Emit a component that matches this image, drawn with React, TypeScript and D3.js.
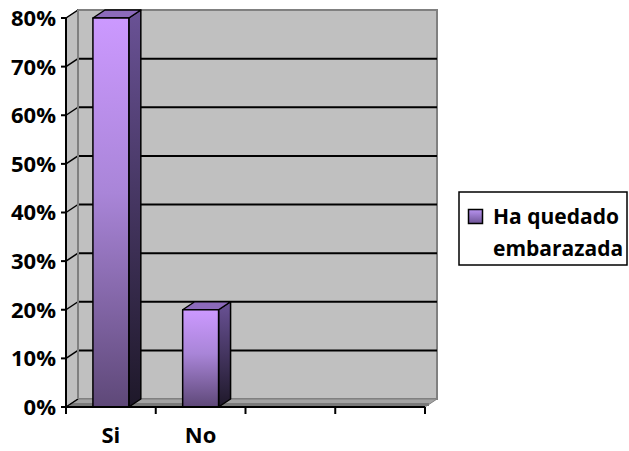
import React from "react";
import * as d3 from "d3";

const categories = ["Si", "No", "", " "];
const values = [0.8, 0.2];
const seriesName = ["Ha quedado", "embarazada"];
const yTicks = [0, 0.1, 0.2, 0.3, 0.4, 0.5, 0.6, 0.7, 0.8];

const W = 629;
const H = 451;
const left = 66;
const right = 425;
const top = 18;
const bottom = 407;
const dx = 12;
const dy = -8;
const FONT = "'Open Sans', Lato, sans-serif";
const FS = 22;
const LFS = 21;

export default function App() {
  const y = d3.scaleLinear().domain([0, 0.8]).range([bottom, top]);
  const x = d3
    .scaleBand<string>()
    .domain(categories)
    .range([left, right])
    .paddingInner(0.6)
    .paddingOuter(0.3);
  const step = x.step();
  const bw = x.bandwidth();
  const fmt = d3.format(".0%");
  const xTickPos = d3.range(categories.length + 1).map((i) => left + i * step);

  return (
    <svg
      width={W}
      height={H}
      style={{ position: "absolute", left: 0, top: 0, background: "#fff" }}
    >
      <defs>
        <linearGradient id="front" x1="0" y1="0" x2="0" y2="1">
          <stop offset="0" stopColor="#CC99FF" />
          <stop offset="0.45" stopColor="#A985D8" />
          <stop offset="1" stopColor="#5E4878" />
        </linearGradient>
        <linearGradient id="side" x1="0" y1="0" x2="0" y2="1">
          <stop offset="0" stopColor="#6A5296" />
          <stop offset="1" stopColor="#1E1829" />
        </linearGradient>
        <linearGradient id="leg" x1="0" y1="0" x2="0" y2="1">
          <stop offset="0" stopColor="#B893F0" />
          <stop offset="1" stopColor="#6E5496" />
        </linearGradient>
      </defs>

      {/* side wall */}
      <polygon
        points={`${left},${bottom} ${left + dx},${bottom + dy} ${left + dx},${top + dy} ${left},${top}`}
        fill="#C0C0C0"
        stroke="#808080"
        strokeWidth={1}
      />
      {/* back wall */}
      <rect
        x={left + dx}
        y={top + dy}
        width={right - left}
        height={bottom - top}
        fill="#C0C0C0"
        stroke="#808080"
        strokeWidth={2}
      />
      {/* floor */}
      <polygon
        points={`${left},${bottom} ${right},${bottom} ${right + dx},${bottom + dy} ${left + dx},${bottom + dy}`}
        fill="#A3A3A3"
        stroke="#808080"
        strokeWidth={1}
      />
      <line x1={left + 4} x2={right + 4} y1={bottom - 2.5} y2={bottom - 2.5} stroke="#7A7A7A" strokeWidth={3} />

      {/* gridlines */}
      {yTicks.map((t) => (
        <g key={t}>
          {t > 0 && t < 0.8 && (
            <line
              x1={left + dx}
              x2={right + dx}
              y1={y(t) + dy}
              y2={y(t) + dy}
              stroke="#000"
              strokeWidth={2}
            />
          )}
          <line
            x1={left}
            x2={left + dx}
            y1={y(t)}
            y2={y(t) + dy}
            stroke="#000"
            strokeWidth={1.5}
          />
        </g>
      ))}
      <line x1={left + dx} x2={left + dx} y1={top + dy} y2={bottom + dy} stroke="#808080" strokeWidth={2} />

      {/* bars */}
      {values.map((v, i) => {
        const x0 = x(categories[i]) as number;
        const yt = y(v);
        const yb = y(0);
        return (
          <g key={i} stroke="#000" strokeWidth={1.5} strokeLinejoin="round">
            <polygon
              points={`${x0 + bw},${yt} ${x0 + bw + dx},${yt + dy} ${x0 + bw + dx},${yb + dy} ${x0 + bw},${yb}`}
              fill="url(#side)"
            />
            <polygon
              points={`${x0},${yt} ${x0 + dx},${yt + dy} ${x0 + bw + dx},${yt + dy} ${x0 + bw},${yt}`}
              fill="#8C6ABB"
            />
            <rect x={x0} y={yt} width={bw} height={yb - yt} fill="url(#front)" />
          </g>
        );
      })}

      {/* axes */}
      <line x1={left} x2={left} y1={top} y2={bottom} stroke="#000" strokeWidth={2} />
      <line x1={left} x2={right} y1={bottom} y2={bottom} stroke="#000" strokeWidth={2} />
      {yTicks.map((t) => (
        <g key={"yt" + t}>
          <line x1={left - 5} x2={left} y1={y(t)} y2={y(t)} stroke="#000" strokeWidth={2} />
          <text
            x={56}
            y={y(t)}
            dy="0.36em"
            textAnchor="end"
            fontFamily={FONT}
            fontWeight="bold"
            fontSize={FS}
            fill="#000"
          >
            {fmt(t)}
          </text>
        </g>
      ))}
      {xTickPos.map((p, i) => (
        <line key={"xt" + i} x1={p} x2={p} y1={bottom} y2={bottom + 7} stroke="#000" strokeWidth={2} />
      ))}
      {categories.map((c, i) => (
        <text
          key={"c" + i}
          x={(x(c) as number) + bw / 2}
          y={443}
          textAnchor="middle"
          fontFamily={FONT}
          fontWeight="bold"
          fontSize={FS}
          fill="#000"
        >
          {c.trim()}
        </text>
      ))}

      {/* legend */}
      <rect x={459} y={192} width={168} height={73} fill="#fff" stroke="#000" strokeWidth={1.5} />
      <rect x={468.5} y={209.5} width={14} height={14} fill="url(#leg)" stroke="#000" strokeWidth={1.5} />
      {seriesName.map((s, i) => (
        <text
          key={s}
          x={493}
          y={224 + i * 32}
          fontFamily={FONT}
          fontWeight="bold"
          fontSize={LFS}
          fill="#000"
        >
          {s}
        </text>
      ))}
    </svg>
  );
}
